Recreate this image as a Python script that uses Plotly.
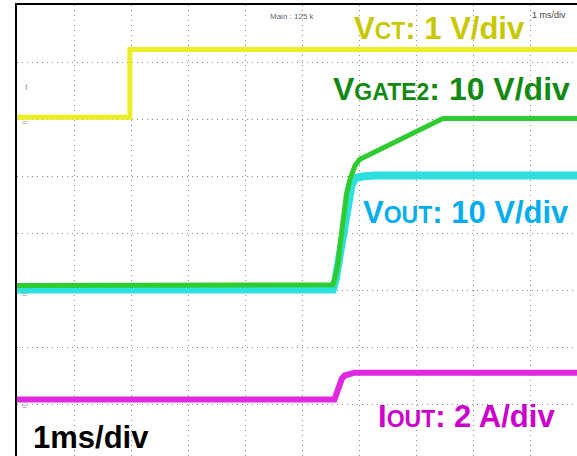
import plotly.graph_objects as go
import numpy as np

# ---- data (time in ms, 1 ms/div) ----
t_vct = [0.0, 1.98, 1.98, 9.9]
v_vct = [0.03, 0.03, 1.22, 1.22]          # V, 1 V/div

t_vgate = [0.0, 5.49, 5.54, 5.57, 5.63, 5.68, 5.73, 5.78, 5.84, 5.93, 6.01, 7.47, 9.9]
v_vgate = [0.8, 0.8, 0.9, 1.8, 4.5, 8.9, 13.2, 16.8, 19.4, 21.8, 22.9, 30.1, 30.1]  # V, 10 V/div

t_vout = [0.0, 5.54, 5.59, 5.66, 5.73, 5.80, 5.87, 5.94, 6.05, 6.28, 9.9]
v_vout = [0.1, 0.1, 1.8, 6.2, 11.5, 15.9, 18.5, 19.6, 19.9, 20.1, 20.1]  # V, 10 V/div

t_iout = [0.0, 5.57, 5.60, 5.63, 5.66, 5.70, 5.75, 5.84, 5.92, 9.9]
i_iout = [0.16, 0.16, 0.33, 0.51, 0.68, 0.89, 1.0, 1.07, 1.1, 1.1]  # A, 2 A/div

# channel scales (units/div) and ground positions (div from bottom)
scale = {"vct": 1.0, "vgate": 10.0, "vout": 10.0, "iout": 2.0}
ground = {"vct": 6.0, "vgate": 3.0, "vout": 3.0, "iout": 1.0}

def to_div(vals, ch):
    return ground[ch] + np.asarray(vals) / scale[ch]

W, H = 577, 456
L, T = 17, 5
DIV = 57.0
X_MAX = (W - L) / DIV
Y_MIN = 8 - (H - T) / DIV

def px_x(px):
    return (px - L) / DIV

def px_y(py):
    return 8 - (py - T) / DIV

fig = go.Figure()
fig.add_trace(go.Scatter(x=t_vct, y=to_div(v_vct, "vct"), mode="lines",
                         line=dict(color="#ecec28", width=5), hoverinfo="skip"))
fig.add_trace(go.Scatter(x=t_vout, y=to_div(v_vout, "vout"), mode="lines",
                         line=dict(color="#2ee0dc", width=8), hoverinfo="skip"))
fig.add_trace(go.Scatter(x=t_vgate, y=to_div(v_vgate, "vgate"), mode="lines",
                         line=dict(color="#2fcc2f", width=5), hoverinfo="skip"))
fig.add_trace(go.Scatter(x=t_iout, y=to_div(i_iout, "iout"), mode="lines",
                         line=dict(color="#e028e0", width=6), hoverinfo="skip"))

FONT = "Liberation Sans, Arial, sans-serif"

def label(text, left_px, cy_px, color, size=31):
    fig.add_annotation(x=px_x(left_px), y=px_y(cy_px), xref="x", yref="y",
                       text=text, showarrow=False, xanchor="left", yanchor="middle",
                       font=dict(family=FONT, size=size, color=color))

sub = "<span style='font-size:23px'>%s</span>"
label("<b>V" + sub % "CT" + ": 1 V/div</b>", 352, 28, "#c8c800")
label("<b>V" + sub % "GATE2" + ": 10 V/div</b>", 331, 89, "#128a12", size=32)
label("<b>V" + sub % "OUT" + ": 10 V/div</b>", 361, 212, "#00aeef")
label("<b>I" + sub % "OUT" + ": 2 A/div</b>", 376, 416, "#cc00cc")
label("<b>1ms/div</b>", 31, 437, "#000000")

# small scope readouts
fig.add_annotation(x=px_x(268), y=px_y(16), xref="x", yref="y", text="Main : 125 k",
                   showarrow=False, xanchor="left", yanchor="middle",
                   font=dict(family=FONT, size=8, color="#666666"))
fig.add_annotation(x=px_x(530), y=px_y(15), xref="x", yref="y", text="1 ms/div",
                   showarrow=False, xanchor="left", yanchor="middle",
                   font=dict(family=FONT, size=9, color="#444444"))

# ground / trigger markers at the left edge
def py_paper(py):
    return 1 - (py - T) / (H - T)

for gy, col in [(122, "#999966"), (294, "#559999"), (406, "#996699")]:
    fig.add_annotation(x=8 / W, y=py_paper(gy), xref="paper", yref="paper",
                       text="=", showarrow=False, xanchor="center", yanchor="middle",
                       font=dict(family=FONT, size=9, color=col))
fig.add_annotation(x=10 / W, y=py_paper(87), xref="paper", yref="paper",
                   text="I", showarrow=False, xanchor="center", yanchor="middle",
                   font=dict(family=FONT, size=9, color="#999999"))

grid = dict(showgrid=True, gridcolor="#8a8a8a", griddash="1px,4px", gridwidth=1,
            zeroline=False, showticklabels=False, ticks="", dtick=1, tick0=0)

fig.update_layout(
    width=W, height=H,
    margin=dict(l=L, r=0, t=T, b=0, autoexpand=False),
    paper_bgcolor="white", plot_bgcolor="white",
    showlegend=False,
    xaxis=dict(range=[0, X_MAX], side="top", showline=True, linecolor="black",
               linewidth=2, **grid),
    yaxis=dict(range=[Y_MIN, 8], showline=True, linecolor="black", linewidth=2, **grid),
)

fig.write_html("out.html", config={"displayModeBar": False},
               post_script="document.body.style.margin='0';document.body.style.overflow='hidden';")
